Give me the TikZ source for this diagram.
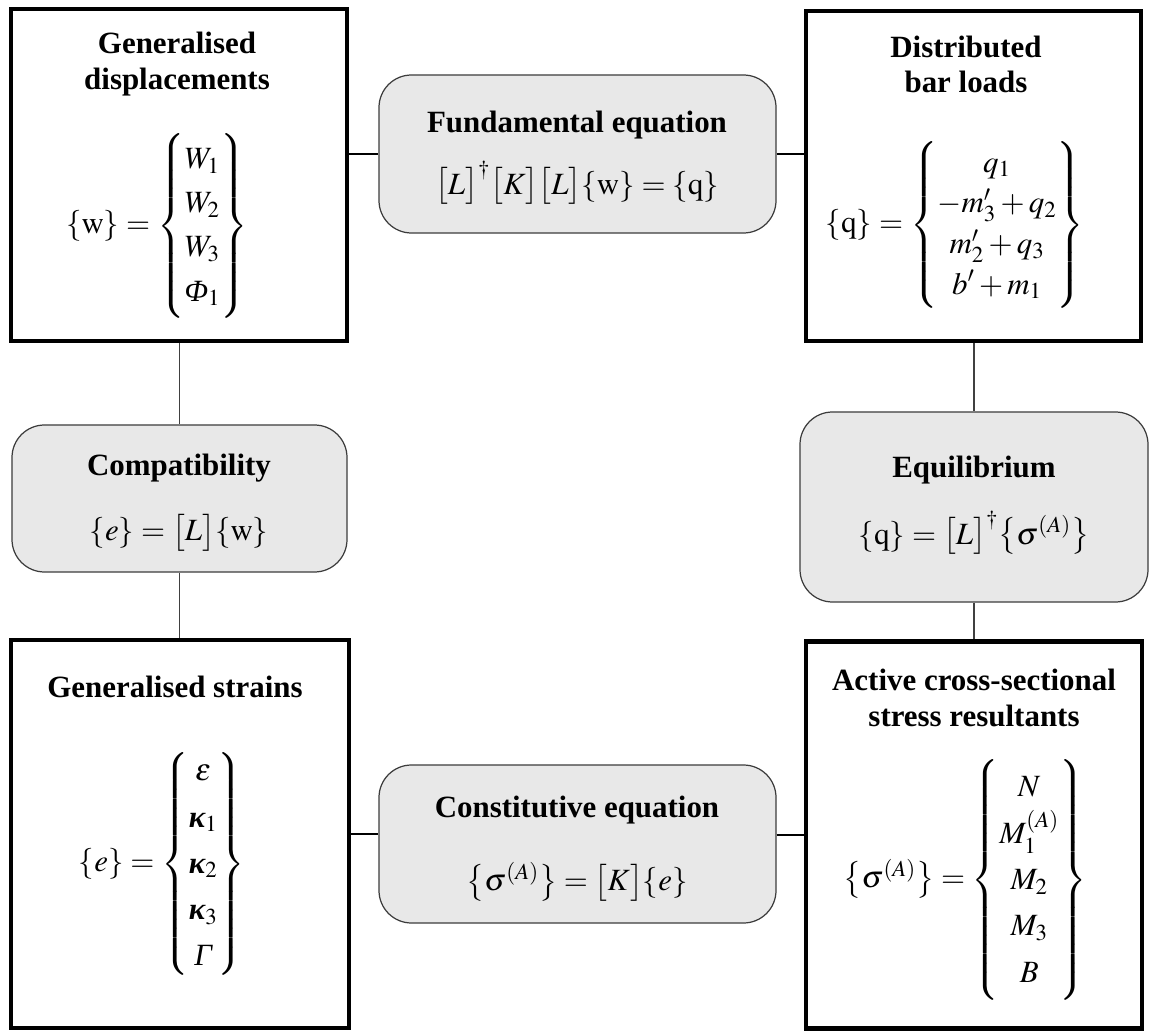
\documentclass[tikz,border=0pt]{standalone}
\usepackage{amsmath}
\usepackage{mathptmx}
\usepackage[no-math]{fontspec}
\setmainfont{Liberation Serif}
\usetikzlibrary{positioning,calc}
\definecolor{shade}{HTML}{E8E8E8}
\definecolor{rim}{HTML}{3C3C3C}
\newcommand{\itPhi}{\mbox{\itshape Φ}}
\newcommand{\itGamma}{\mbox{\itshape Γ}}
\newcommand{\bkappa}{\mbox{\bfseries\itshape κ}}
\newcommand{\rows}[1]{\renewcommand{\arraystretch}{#1}}
\tikzset{
  quantity/.style={draw=black,line width=2.4pt,fill=white,inner sep=0pt},
  relation/.style={draw=rim,line width=.7pt,fill=shade,rounded corners=6.5mm,inner sep=0pt},
  head/.style={font=\fontsize{17.6}{20}\selectfont\bfseries,align=center,inner sep=0pt},
  eqn/.style={font=\fontsize{17.6}{21}\selectfont,inner sep=0pt},
  link/.style={line width=1.1pt,draw=black},
  linkv/.style={line width=.6pt,draw=black!75},
}

\begin{document}
\begin{tikzpicture}[x=0.2mm,y=-0.2mm]
  \path[use as bounding box] (0,0) rectangle (1150,1032);
  % boxes
  \node[quantity,minimum width=67.2mm,minimum height=66.4mm] (disp) at (179,175) {};
  \node[quantity,minimum width=67mm,minimum height=66mm] (load) at (973.5,176) {};
  \node[quantity,minimum width=67.6mm,minimum height=77.6mm] (strain) at (180,834) {};
  \node[quantity,minimum width=67.2mm,minimum height=77.4mm] (resul) at (974,835) {};
  \node[relation,minimum width=79.4mm,minimum height=31.6mm] (fund) at (577.5,154) {};
  \node[relation,minimum width=79.4mm,minimum height=31.6mm] (const) at (577.5,844) {};
  \node[relation,minimum width=67mm,minimum height=29.4mm] (compat) at (179.5,498.5) {};
  \node[relation,minimum width=69.6mm,minimum height=38mm] (equil) at (974,507) {};
  % connectors
  \draw[link] (disp.east |- fund.west) -- (fund.west);
  \draw[link] (fund.east) -- (fund.east -| load.west);
  \draw[link] (strain.east) -- (strain.east -| const.west);
  \draw[link] (const.east |- resul.west) -- (resul.west);
  \draw[linkv] (compat.north |- disp.south) -- (compat.north);
  \draw[linkv] (compat.south) -- (compat.south |- strain.north);
  \draw[linkv] (equil.north |- load.south) -- (equil.north);
  \draw[linkv] (equil.south) -- (equil.south |- resul.north);
  % texts
  \node[head] (dispHead) at (177,64) {Generalised\\displacements};
  \node[eqn] (dispEq) at (157,226) {\rows{1.2}$\{\mathrm{w}\}=\left\{\begin{matrix}W_1\\W_2\\W_3\\\itPhi_1\end{matrix}\right\}$};
  \node[head] (loadHead) at (966,64) {Distributed\\bar loads};
  \node[eqn] (loadEq) at (955,225) {\rows{1.1}$\{\mathrm{q}\}=\left\{\begin{matrix}q_1\\-m'_3+q_2\\m'_2+q_3\\b'+m_1\end{matrix}\right\}$};
  \node[head] (strainHead) at (175,687) {Generalised strains};
  \node[eqn] (strainEq) at (162,864) {\rows{1.25}$\{e\}=\left\{\begin{matrix}\varepsilon\\\bkappa_1\\\bkappa_2\\\bkappa_3\\\itGamma\end{matrix}\right\}$};
  \node[head] (resulHead) at (974,698) {Active cross-sectional\\stress resultants};
  \node[eqn] (resulEq) at (965,880) {\rows{1.25}$\bigl\{\sigma^{(A)}\bigr\}=\left\{\begin{matrix}N\\M_1^{(A)}\\M_2\\M_3\\B\end{matrix}\right\}$};
  \node[head] (fundHead) at (577,125) {Fundamental equation};
  \node[eqn] (fundEq) at (577,183) {$\bigl[L\bigr]^{\dagger}\bigl[K\bigr]\bigl[L\bigr]\{\mathrm{w}\}=\{\mathrm{q}\}$};
  \node[head] (compatHead) at (179,468) {Compatibility};
  \node[eqn] (compatEq) at (179,533) {$\{e\}=\bigl[L\bigr]\{\mathrm{w}\}$};
  \node[head] (equilHead) at (974,470) {Equilibrium};
  \node[eqn] (equilEq) at (974,533) {$\{\mathrm{q}\}=\bigl[L\bigr]^{\dagger}\bigl\{\sigma^{(A)}\bigr\}$};
  \node[head] (constHead) at (577,810) {Constitutive equation};
  \node[eqn] (constEq) at (577,882) {$\bigl\{\sigma^{(A)}\bigr\}=\bigl[K\bigr]\{e\}$};
\end{tikzpicture}
\end{document}
